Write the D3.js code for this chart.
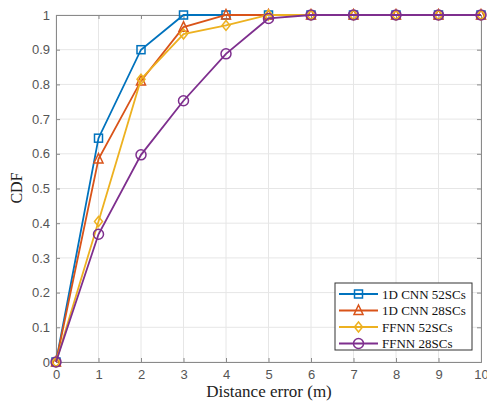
<!DOCTYPE html>
<html><head><meta charset="utf-8">
<script src="https://cdn.jsdelivr.net/npm/d3@7"></script>
<style>body{margin:0;background:#fff;}</style>
</head><body>
<svg id="c" width="487" height="402"></svg>
<script>
const xValues = [0,1,2,3,4,5,6,7,8,9,10];
const seriesNames = ["1D CNN 52SCs","1D CNN 28SCs","FFNN 52SCs","FFNN 28SCs"];
const cnn52 = [0,0.645,0.90,1,1,1,1,1,1,1,1];
const cnn28 = [0,0.585,0.81,0.965,1,1,1,1,1,1,1];
const ffnn52 = [0,0.405,0.815,0.945,0.97,1,1,1,1,1,1];
const ffnn28 = [0,0.368,0.597,0.753,0.888,0.99,1,1,1,1,1];
const xTicks = [0,1,2,3,4,5,6,7,8,9,10];
const yTicks = [0,0.1,0.2,0.3,0.4,0.5,0.6,0.7,0.8,0.9,1];
const colors = ["#0072BD","#D95319","#EDB120","#7E2F8E"];
const markers = ["square","triangle","diamond","circle"];
const allSeries = [cnn52,cnn28,ffnn52,ffnn28];

const svg = d3.select("#c");
const L=56,R=481,T=15,B=362;
const x = d3.scaleLinear().domain([0,10]).range([L,R]);
const y = d3.scaleLinear().domain([0,1]).range([B,T]);

// grid
const g = svg.append("g");
g.selectAll(".gx").data(xTicks).join("line").attr("x1",d=>x(d)).attr("x2",d=>x(d)).attr("y1",T).attr("y2",B)
 .attr("stroke","#e6e6e6").attr("stroke-width",1);
g.selectAll(".gy").data(yTicks).join("line").attr("y1",d=>y(d)).attr("y2",d=>y(d)).attr("x1",L).attr("x2",R)
 .attr("stroke","#e6e6e6").attr("stroke-width",1);

// axes
const axisColor="#8a8a8a";
const xa = svg.append("g").attr("transform",`translate(0,${B})`).call(d3.axisBottom(x).tickValues(xTicks).tickSize(-4).tickPadding(8).tickFormat(d3.format("d")));
const xt = svg.append("g").attr("transform",`translate(0,${T})`).call(d3.axisTop(x).tickValues(xTicks).tickSize(-4).tickFormat(""));
const ya = svg.append("g").attr("transform",`translate(${L},0)`).call(d3.axisLeft(y).tickValues(yTicks).tickSize(-4).tickPadding(6).tickFormat(d=>d===0?"0":d===1?"1":d3.format(".1f")(d)));
const yr = svg.append("g").attr("transform",`translate(${R},0)`).call(d3.axisRight(y).tickValues(yTicks).tickSize(-4).tickFormat(""));
[xa,xt,ya,yr].forEach(a=>{
  a.select(".domain").attr("stroke",axisColor);
  a.selectAll(".tick line").attr("stroke",axisColor);
  a.selectAll("text").attr("fill","#555").attr("font-family","Liberation Sans, Arial, sans-serif").attr("font-size",13);
});

// lines
const line = d3.line().x((d,i)=>x(xValues[i])).y(d=>y(d));
function drawMarker(sel,type,color){
  const s=4;
  if(type==="square") sel.append("rect").attr("x",-s).attr("y",-s).attr("width",2*s).attr("height",2*s);
  else if(type==="triangle") sel.append("path").attr("d",`M0,${-s-1.5}L${s+0.5},${s}L${-s-0.5},${s}Z`);
  else if(type==="diamond") sel.append("path").attr("d",`M0,${-s-1}L${s},0L0,${s+1}L${-s},0Z`);
  else sel.append("circle").attr("r",s+1);
  sel.selectAll("*").attr("fill","none").attr("stroke",color).attr("stroke-width",1.5);
}
allSeries.forEach((data,k)=>{
  svg.append("path").datum(data).attr("d",line).attr("fill","none").attr("stroke",colors[k]).attr("stroke-width",1.8);
  data.forEach((v,i)=>{
    const m = svg.append("g").attr("transform",`translate(${x(xValues[i])},${y(v)})`);
    drawMarker(m,markers[k],colors[k]);
  });
});

// legend
const lg = svg.append("g");
lg.append("rect").attr("x",335).attr("y",283).attr("width",137).attr("height",67).attr("fill","#fff").attr("stroke","#333").attr("stroke-width",1);
seriesNames.forEach((n,k)=>{
  const yy = 294 + k*16.5;
  lg.append("line").attr("x1",339).attr("x2",378).attr("y1",yy).attr("y2",yy).attr("stroke",colors[k]).attr("stroke-width",1.8);
  const m = lg.append("g").attr("transform",`translate(358.5,${yy})`);
  drawMarker(m,markers[k],colors[k]);
  lg.append("text").attr("x",382).attr("y",yy+4.5).text(n).attr("font-family","Liberation Serif, Times New Roman, serif").attr("font-size",13).attr("fill","#111");
});

// axis labels
svg.append("text").attr("x",269).attr("y",397).attr("text-anchor","middle").text("Distance error (m)")
 .attr("font-family","Liberation Serif, Times New Roman, serif").attr("font-size",17).attr("fill","#222");
svg.append("text").attr("transform",`translate(22,188) rotate(-90)`).attr("text-anchor","middle").text("CDF")
 .attr("font-family","Liberation Serif, Times New Roman, serif").attr("font-size",16).attr("fill","#222");
</script>
</body></html>
